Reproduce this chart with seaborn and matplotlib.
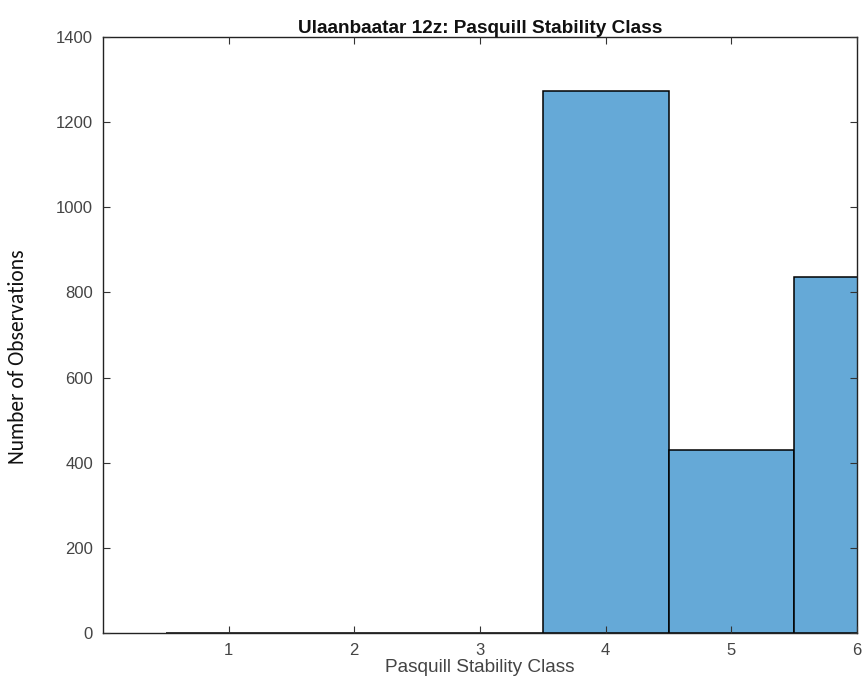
import matplotlib
matplotlib.use("Agg")
import matplotlib.pyplot as plt
import seaborn as sns
import pandas as pd

# Pasquill stability class counts, Ulaanbaatar 12z soundings
classes = [1, 2, 3, 4, 5, 6]
counts = [0, 0, 0, 1273, 430, 836]
xticks = [1, 2, 3, 4, 5, 6]
yticks = [0, 200, 400, 600, 800, 1000, 1200, 1400]

sns.set_theme(style="white")
plt.rcParams["font.family"] = ["Liberation Sans Narrow", "Liberation Sans", "DejaVu Sans"]

df = pd.DataFrame({"cls": classes, "n": counts})

fig = plt.figure(figsize=(8.64, 6.85), dpi=100)
ax = fig.add_axes([0.119, 0.0759, 0.873, 0.870])

sns.histplot(data=df, x="cls", weights="n", discrete=True, ax=ax,
             color="#65a9d7", edgecolor="black", linewidth=1.1, alpha=1.0)

ax.set_xlim(0, 6)
ax.set_ylim(0, 1400)
ax.set_xticks(xticks)
ax.set_yticks(yticks)
ax.set_axisbelow(False)
ax.tick_params(direction="in", length=5, width=0.8, colors="#333333",
               labelcolor="#444444", labelsize=12, top=True, right=True,
               bottom=True, left=True, pad=7)
for s in ax.spines.values():
    s.set_visible(True)
    s.set_color("#222222")
    s.set_linewidth(1.0)

ax.set_title("Ulaanbaatar 12z: Pasquill Stability Class", fontsize=13.7,
             fontweight="bold", color="#111111", pad=3)
ax.set_xlabel("Pasquill Stability Class", fontsize=13.7, color="#444444", labelpad=1)
ax.set_ylabel("Number of Observations", fontsize=15.5, color="#111111",
              family=["Carlito", "Open Sans", "DejaVu Sans"],
              ha="center", va="center")
ax.yaxis.set_label_coords(-0.113, 0.463)

fig.savefig("out.png", dpi=100)
